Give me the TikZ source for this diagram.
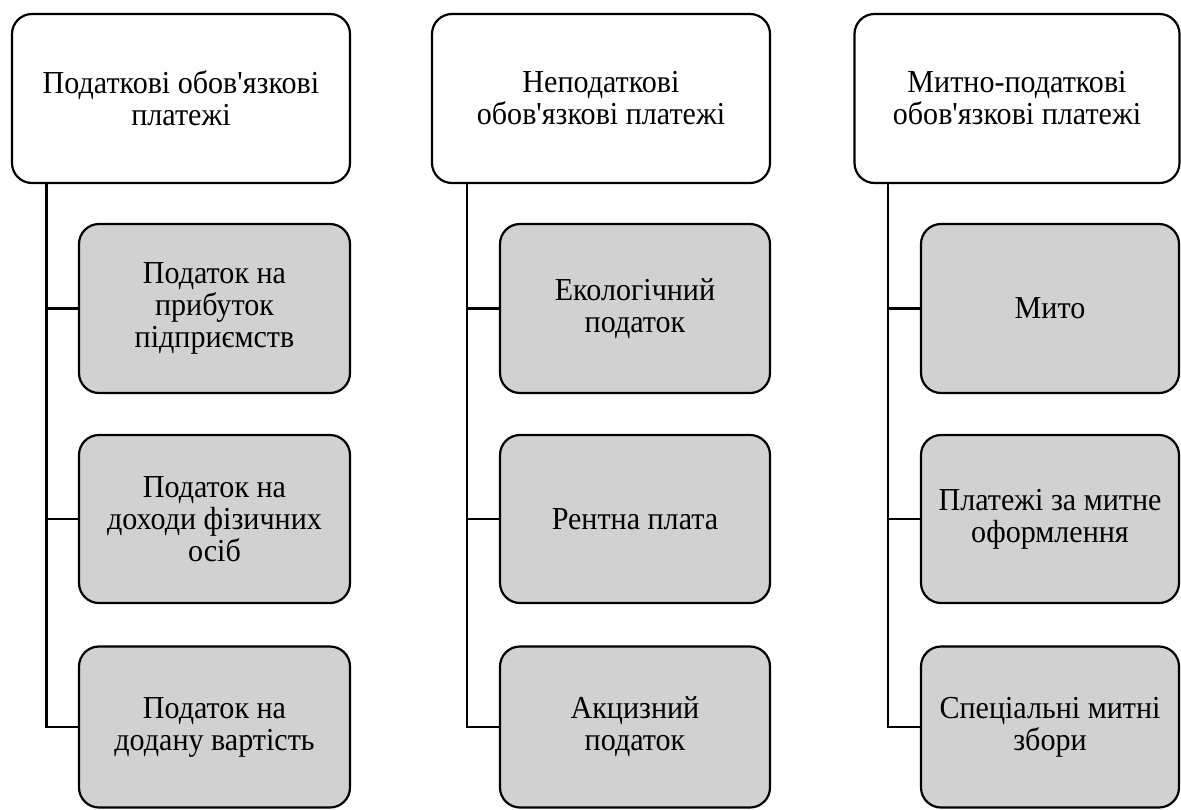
\documentclass[tikz,border=0pt]{standalone}
\usepackage{fontspec}
\setmainfont{Liberation Serif}
\newfontfamily\tnr{Liberation Serif}[FakeStretch=0.94]
\newcommand{\apos}{\char"0027\relax}
\begin{document}
\begin{tikzpicture}[x=1pt,y=-1pt,
  boxtext/.style={align=center,inner sep=0pt,font=\tnr\fontsize{32}{32}\selectfont},
  topbox/.style={boxtext,draw=black,line width=2.2pt,fill=white,rounded corners=20pt},
  subbox/.style={boxtext,draw=black,line width=2.2pt,fill=black!18,rounded corners=20pt},
  link/.style={draw=black,line width=2.2pt}]
\useasboundingbox (0,0) rectangle (1181,809);
% top boxes
\node[topbox,minimum width=338pt,minimum height=169pt] (t1) at (181,98.5) {Податкові обов\apos язкові\\платежі};
\node[topbox,minimum width=338pt,minimum height=169pt] (t2) at (601,98.5) {Неподаткові\\обов\apos язкові платежі};
\node[topbox,minimum width=325pt,minimum height=169pt] (t3) at (1017,98.5) {Митно-податкові\\обов\apos язкові платежі};
% sub boxes column 1
\node[subbox,minimum width=271pt,minimum height=169pt] (a1) at (214.5,308.5) {Податок на\\прибуток\\підприємств};
\node[subbox,minimum width=271pt,minimum height=168pt] (a2) at (214.5,519) {Податок на\\доходи фізичних\\осіб};
\node[subbox,minimum width=271pt,minimum height=161pt] (a3) at (214.5,727) {Податок на\\додану вартість};
% column 2
\node[subbox,minimum width=270pt,minimum height=169pt] (b1) at (635,308.5) {Екологічний\\податок};
\node[subbox,minimum width=270pt,minimum height=168pt] (b2) at (635,519) {Рентна плата};
\node[subbox,minimum width=270pt,minimum height=161pt] (b3) at (635,727) {Акцизний\\податок};
% column 3
\node[subbox,minimum width=258pt,minimum height=169pt] (c1) at (1050,308.5) {Мито};
\node[subbox,minimum width=258pt,minimum height=168pt] (c2) at (1050,519) {Платежі за митне\\оформлення};
\node[subbox,minimum width=258pt,minimum height=161pt] (c3) at (1050,727) {Спеціальні митні\\збори};
% connectors
\coordinate (va) at (46.5,183);
\coordinate (vb) at (467,183);
\coordinate (vc) at (888,183);
\draw[link] (va) |- (a3.west);
\draw[link] (va |- a1.west) -- (a1.west);
\draw[link] (va |- a2.west) -- (a2.west);
\draw[link] (vb) |- (b3.west);
\draw[link] (vb |- b1.west) -- (b1.west);
\draw[link] (vb |- b2.west) -- (b2.west);
\draw[link] (vc) |- (c3.west);
\draw[link] (vc |- c1.west) -- (c1.west);
\draw[link] (vc |- c2.west) -- (c2.west);
\end{tikzpicture}
\end{document}
